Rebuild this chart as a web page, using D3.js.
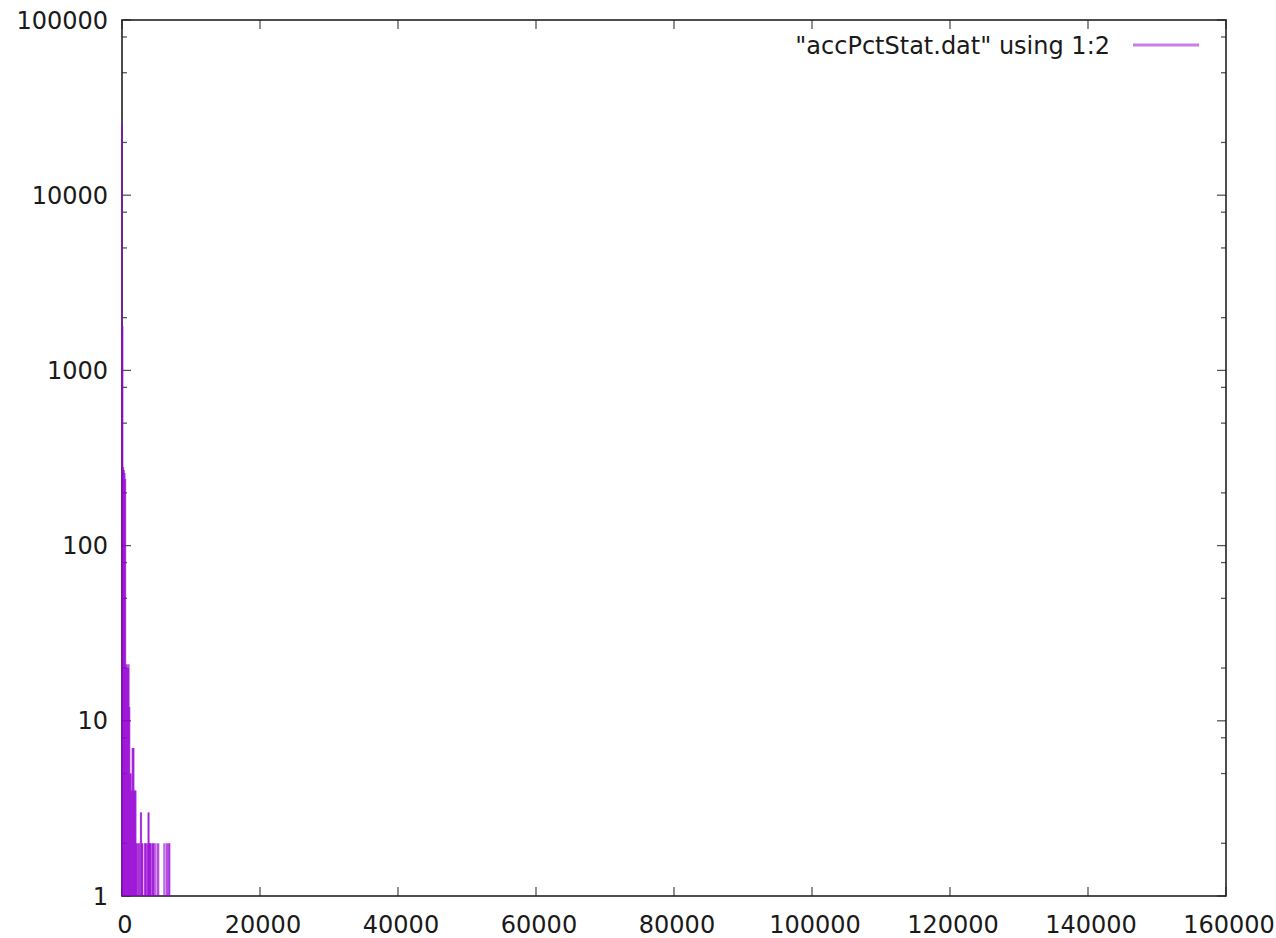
<!DOCTYPE html>
<html lang="en">

<head>
    <meta charset="UTF-8">
    <script src="https://d3js.org/d3.v7.min.js"></script>
    <title>accPctStat</title>
    <style>
        body {
            margin: 0;
            background: #fff;
            font-family: "DejaVu Sans", sans-serif;
        }

        svg text {
            font-size: 24px;
            fill: #1a1a1a;
        }
    </style>
</head>

<body>
    <svg id="chart" width="1276" height="938"></svg>

    <script>
        // impulse data: x value and count
        const xs = [0, 100, 200, 300, 400, 500, 600, 700, 800, 900, 1000, 1100, 1200, 1300, 1400,
            1500, 1600, 1700, 1800, 1900, 2000, 2100, 2200, 2400, 2500, 2700, 2800, 2900, 3000,
            3300, 3400, 3500, 3700, 3800, 3900, 4000, 4100, 4200, 4400, 4500, 4600, 4800, 5100,
            5300, 6100, 6400, 6600, 6800, 6900];
        const counts = [25700, 1800, 280, 270, 260, 240, 21, 20, 21, 20, 21, 12, 5, 5, 4,
            7, 7, 7, 4, 4, 4, 2, 2, 2, 2, 3, 3, 2, 2,
            2, 2, 2, 2, 3, 3, 2, 2, 2, 2, 2, 2, 2, 2,
            2, 2, 2, 2, 2, 2];

        const xTicks = [0, 20000, 40000, 60000, 80000, 100000, 120000, 140000, 160000];
        const yTicks = [1, 10, 100, 1000, 10000, 100000];
        const yMinor = [2, 5, 8];

        const legendLabel = '"accPctStat.dat" using 1:2';

        const svg = d3.select('#chart');
        const pLeft = 122, pRight = 1226, pTop = 20, pBottom = 896;

        const x = d3.scaleLinear().domain([0, 160000]).range([pLeft, pRight]);
        const y = d3.scaleLog().domain([1, 100000]).range([pBottom, pTop]);

        // ticks (inside, mirrored)
        const ticks = svg.append('g').attr('stroke', '#555').attr('stroke-width', 1.3);
        xTicks.forEach(t => {
            ticks.append('line').attr('x1', x(t)).attr('x2', x(t)).attr('y1', pBottom).attr('y2', pBottom - 9);
            ticks.append('line').attr('x1', x(t)).attr('x2', x(t)).attr('y1', pTop).attr('y2', pTop + 9);
        });
        yTicks.forEach(t => {
            ticks.append('line').attr('x1', pLeft).attr('x2', pLeft + 9).attr('y1', y(t)).attr('y2', y(t));
            ticks.append('line').attr('x1', pRight).attr('x2', pRight - 9).attr('y1', y(t)).attr('y2', y(t));
        });
        yTicks.slice(0, -1).forEach(t => {
            yMinor.forEach(m => {
                const v = t * m;
                ticks.append('line').attr('x1', pLeft).attr('x2', pLeft + 5).attr('y1', y(v)).attr('y2', y(v));
                ticks.append('line').attr('x1', pRight).attr('x2', pRight - 5).attr('y1', y(v)).attr('y2', y(v));
            });
        });

        // border
        svg.append('rect')
            .attr('x', pLeft).attr('y', pTop)
            .attr('width', pRight - pLeft).attr('height', pBottom - pTop)
            .attr('fill', 'none').attr('stroke', '#222').attr('stroke-width', 1.6);

        // tick labels
        svg.append('g').selectAll('text').data(xTicks).join('text')
            .attr('x', d => x(d) + 3).attr('y', 933)
            .attr('text-anchor', 'middle')
            .text(d => d);
        svg.append('g').selectAll('text').data(yTicks).join('text')
            .attr('x', 108).attr('y', d => y(d) + 8.5)
            .attr('text-anchor', 'end')
            .text(d => d);

        // impulses
        const data = xs.map((v, i) => ({ x: v, c: counts[i] }));
        svg.append('g').selectAll('line').data(data).join('line')
            .attr('x1', d => x(d.x)).attr('x2', d => x(d.x))
            .attr('y1', y(1)).attr('y2', d => y(d.c))
            .attr('stroke', '#9400d3')
            .attr('stroke-opacity', 0.7)
            .attr('stroke-width', 1.5);

        // legend
        svg.append('text')
            .attr('x', 1110).attr('y', 54)
            .attr('text-anchor', 'end')
            .text(legendLabel);
        svg.append('line')
            .attr('x1', 1133).attr('x2', 1199).attr('y1', 45).attr('y2', 45)
            .attr('stroke', '#9400d3').attr('stroke-opacity', 0.5).attr('stroke-width', 3);
    </script>
</body>

</html>
